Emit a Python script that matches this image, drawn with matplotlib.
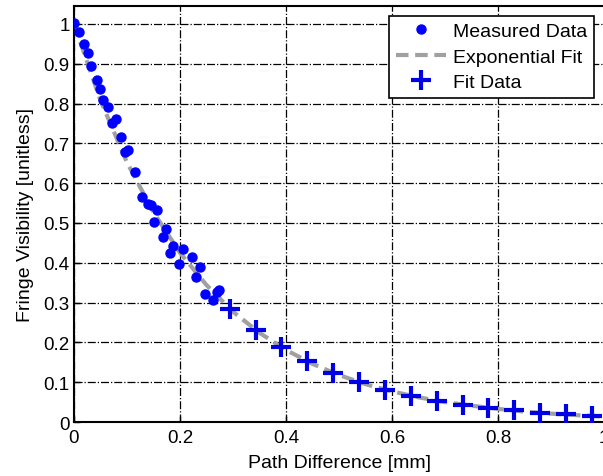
import matplotlib.pyplot as plt

plt.rcParams['font.family'] = ['Liberation Sans', 'DejaVu Sans']

# Measured data (path difference in mm, visibility)
meas_x = [0.000, 0.009, 0.018, 0.027, 0.033, 0.043, 0.049, 0.055, 0.065, 0.071,
          0.080, 0.088, 0.096, 0.102, 0.115, 0.128, 0.139, 0.145, 0.157, 0.151,
          0.174, 0.167, 0.187, 0.206, 0.181, 0.222, 0.199, 0.238, 0.230, 0.247,
          0.262, 0.274, 0.269]
meas_y = [1.002, 0.979, 0.950, 0.927, 0.895, 0.860, 0.837, 0.808, 0.791, 0.751,
          0.760, 0.715, 0.678, 0.684, 0.629, 0.566, 0.548, 0.545, 0.533, 0.503,
          0.485, 0.464, 0.443, 0.435, 0.425, 0.414, 0.397, 0.389, 0.364, 0.322,
          0.307, 0.332, 0.327]

# Exponential fit curve
fit_x = [0.00, 0.05, 0.10, 0.15, 0.20, 0.25, 0.30, 0.35, 0.40, 0.45, 0.50,
         0.55, 0.60, 0.65, 0.70, 0.75, 0.80, 0.85, 0.90, 0.95, 1.00]
fit_y = [1.000, 0.808, 0.652, 0.527, 0.425, 0.344, 0.277, 0.224, 0.181, 0.146, 0.118,
         0.095, 0.077, 0.062, 0.050, 0.041, 0.033, 0.026, 0.021, 0.017, 0.014]

# Fit data points
fd_x = [0.294, 0.343, 0.391, 0.440, 0.489, 0.538, 0.587, 0.636, 0.685, 0.733,
        0.782, 0.831, 0.880, 0.929, 0.978]
fd_y = [0.284, 0.231, 0.188, 0.152, 0.123, 0.100, 0.081, 0.066, 0.054, 0.043,
        0.035, 0.029, 0.023, 0.019, 0.015]

fig = plt.figure(figsize=(6.03, 4.77), dpi=100)
ax = fig.add_axes([0.1227, 0.1132, 0.8790, 0.8721])

ax.plot(meas_x, meas_y, 'o', color='#0000ff', markersize=6.5, label='Measured Data', zorder=3)
ax.plot(fit_x, fit_y, '--', color='#a0a0a0', linewidth=3, dashes=(3, 1.6), label='Exponential Fit', zorder=2)
ax.plot(fd_x, fd_y, '+', color='#0000e6', markersize=14, markeredgewidth=3, label='Fit Data', zorder=4)

ax.set_xlim(0, 1)
ax.set_ylim(0, 1.045)
ax.set_xticks([0, 0.2, 0.4, 0.6, 0.8, 1])
ax.set_xticklabels(['0', '0.2', '0.4', '0.6', '0.8', '1'])
ax.set_yticks([i / 10 for i in range(11)])
ax.set_yticklabels(['0'] + ['0.%d' % i for i in range(1, 10)] + ['1'])
ax.tick_params(direction='in', labelsize=13.5, length=4, width=1, pad=3)
ax.tick_params(axis='x', pad=5)
ax.grid(True, color='black', linestyle='-.', linewidth=0.9)
for s in ax.spines.values():
    s.set_linewidth(1.5)

ax.set_xlabel('Path Difference [mm]', fontsize=14, labelpad=6)
ax.set_ylabel('Fringe Visibility [unitless]', fontsize=14, labelpad=7)

leg = ax.legend(loc='upper right', fontsize=14, fancybox=False, framealpha=1,
                edgecolor='black', borderaxespad=0.5, handlelength=2.6,
                handletextpad=0.35, borderpad=0.35, labelspacing=0.4)
leg.get_frame().set_linewidth(1.2)

fig.savefig('out.png', dpi=100)
